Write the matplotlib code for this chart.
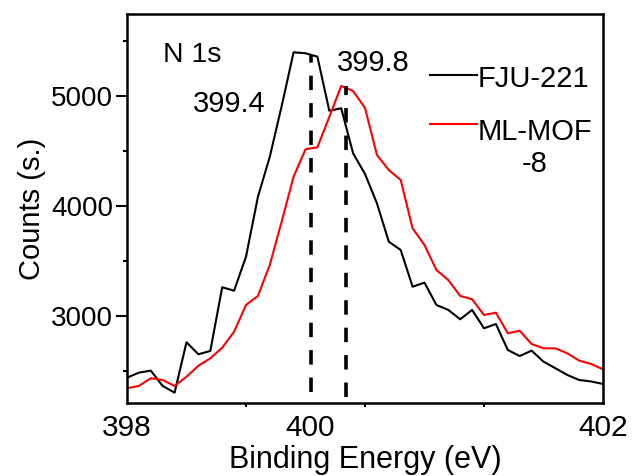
import matplotlib
matplotlib.use("Agg")
import matplotlib.pyplot as plt
from matplotlib.ticker import FixedLocator

plt.rcParams['font.family'] = ['Liberation Sans', 'DejaVu Sans']

# ---------------- data ----------------
energy = [398.0, 398.1, 398.2, 398.3, 398.4, 398.5, 398.6, 398.7, 398.8, 398.9,
          399.0, 399.1, 399.2, 399.3, 399.4, 399.5, 399.6, 399.7, 399.8, 399.9,
          400.0, 400.1, 400.2, 400.3, 400.4, 400.5, 400.6, 400.7, 400.8, 400.9,
          401.0, 401.1, 401.2, 401.3, 401.4, 401.5, 401.6, 401.7, 401.8, 401.9,
          402.0]
fju221 = [2439, 2485, 2503, 2364, 2303, 2761, 2652, 2682, 3261, 3230,
          3539, 4082, 4448, 4909, 5397, 5388, 5357, 4866, 4888, 4479,
          4291, 4025, 3675, 3600, 3266, 3303, 3100, 3055, 2970, 3055,
          2888, 2927, 2691, 2636, 2685, 2585, 2525, 2464, 2418, 2405,
          2382]
mlmof8 = [2343, 2364, 2434, 2418, 2364, 2448, 2548, 2615, 2712, 2857,
          3100, 3182, 3464, 3859, 4266, 4515, 4534, 4809, 5091, 5045,
          4891, 4464, 4327, 4236, 3797, 3645, 3418, 3327, 3182, 3152,
          3009, 3030, 2843, 2866, 2745, 2706, 2706, 2661, 2594, 2564,
          2515]
series_names = ["FJU-221", "ML-MOF\n-8"]
series_colors = ["black", "red"]

peak_pos = [399.55, 399.84]          # dashed marker positions on the plotted axis
peak_top = [5375, 5090]
peak_bottom = [2310, 2265]
peak_labels = ["399.4", "399.8"]

x_ticks_major = [398, 399.54, 402]
x_tick_labels = ["398", "400", "402"]
x_ticks_minor = [398, 399, 400, 401, 402]
y_ticks_major = [3000, 4000, 5000]
y_ticks_minor = [2500, 3500, 4500, 5500]

# ---------------- figure ----------------
fig = plt.figure(figsize=(6.33, 4.76), dpi=100)
ax = fig.add_axes([127 / 633, 73 / 476, 476 / 633, 389 / 476])

ax.plot(energy, fju221, color=series_colors[0], lw=1.5)
ax.plot(energy, mlmof8, color=series_colors[1], lw=1.5)

for xp, yt, yb in zip(peak_pos, peak_top, peak_bottom):
    ax.plot([xp, xp], [yb, yt], color="black", lw=2.6, linestyle=(0, (4, 3.6)))

ax.set_xlim(398, 402)
ax.set_ylim(2209, 5745)

ax.xaxis.set_major_locator(FixedLocator(x_ticks_major))
ax.set_xticklabels(x_tick_labels)
ax.xaxis.set_minor_locator(FixedLocator(x_ticks_minor))
ax.yaxis.set_major_locator(FixedLocator(y_ticks_major))
ax.yaxis.set_minor_locator(FixedLocator(y_ticks_minor))

ax.tick_params(axis='x', which='major', length=0, pad=8, labelsize=21.5)
ax.tick_params(axis='x', which='minor', length=3, width=1.5, direction='out')
ax.tick_params(axis='y', which='major', length=8, width=1.5, pad=2, labelsize=20)
ax.tick_params(axis='y', which='minor', length=3, width=1.5)

for s in ax.spines.values():
    s.set_linewidth(1.8)

ax.set_xlabel("Binding Energy (eV)", fontsize=22, labelpad=2)
ax.set_ylabel("Counts (s.)", fontsize=21, labelpad=4)

# annotations
ax.text(398.30, 5309, "N 1s", fontsize=20.5, va='baseline', ha='left')
ax.text(398.555, 4855, peak_labels[0], fontsize=21, va='baseline', ha='left')
ax.text(399.765, 5227, peak_labels[1], fontsize=21, va='baseline', ha='left')

# legend (hand-placed to match reference layout)
leg_x0, leg_x1 = 0.637, 0.735
ax.plot([leg_x0, leg_x1], [0.843, 0.843], color=series_colors[0], lw=1.5,
        transform=ax.transAxes)
ax.plot([leg_x0, leg_x1], [0.717, 0.717], color=series_colors[1], lw=1.5,
        transform=ax.transAxes)
ax.text(leg_x1 + 0.002, 0.812, series_names[0], fontsize=21, va='baseline',
        ha='left', transform=ax.transAxes)
ax.text(0.857, 0.594, series_names[1], fontsize=21, va='baseline',
        ha='center', multialignment='center', transform=ax.transAxes,
        linespacing=1.2)

fig.savefig("out.png", dpi=100)
